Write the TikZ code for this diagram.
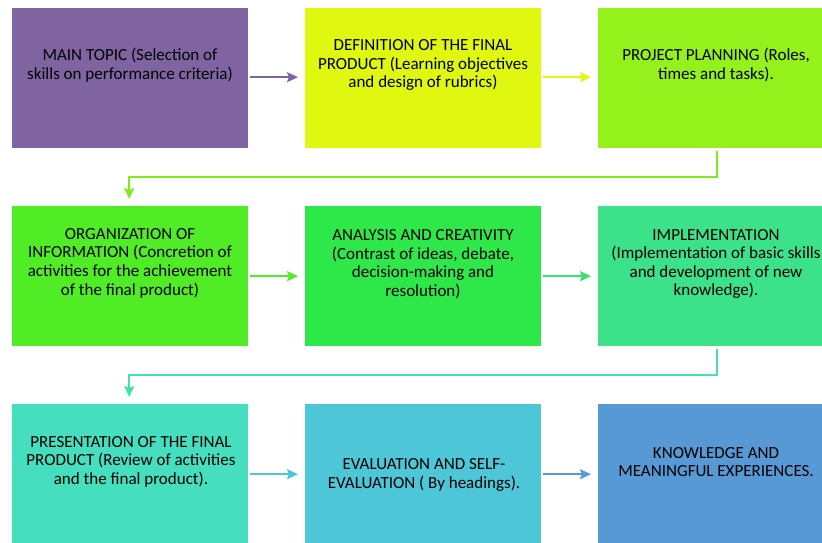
\documentclass[tikz,border=0pt]{standalone}
\usepackage{fontspec}
\setmainfont{Carlito}
\usetikzlibrary{arrows.meta,calc}
\definecolor{cA}{HTML}{8064A2}
\definecolor{cB}{HTML}{E0F80F}
\definecolor{cC}{HTML}{95F11B}
\definecolor{cD}{HTML}{50EC26}
\definecolor{cE}{HTML}{2EE84A}
\definecolor{cF}{HTML}{3CE28A}
\definecolor{cG}{HTML}{45DFBF}
\definecolor{cH}{HTML}{4DC6D8}
\definecolor{cI}{HTML}{5799D4}
\definecolor{aC}{HTML}{7EEB20}
\definecolor{aE}{HTML}{35E36A}
\definecolor{aF}{HTML}{45E0B0}
\tikzset{
  box/.style={minimum width=236pt,minimum height=140pt,inner sep=0pt,draw=none,anchor=north west},
  txt/.style={align=center,inner sep=0pt,font=\fontsize{17}{18.6}\selectfont,text=black},
  arr/.style={line width=2pt,-{Stealth[length=11pt,width=10pt,inset=2pt]}},
}
\begin{document}
\begin{tikzpicture}[x=1pt,y=1pt]
\useasboundingbox (0,0) rectangle (822,-542);
\clip (0,0) rectangle (822,-542);
% boxes
\node[box,fill=cA] (b1) at (12,-8) {};
\node[box,fill=cB] (b2) at (305,-8) {};
\node[box,fill=cC] (b3) at (598,-8) {};
\node[box,fill=cD] (b4) at (12,-206) {};
\node[box,fill=cE] (b5) at (305,-206) {};
\node[box,fill=cF] (b6) at (598,-206) {};
\node[box,fill=cG] (b7) at (12,-404) {};
\node[box,fill=cH] (b8) at (305,-404) {};
\node[box,fill=cI] (b9) at (598,-404) {};
% texts
\node[txt] (t1) at (130,-65) {MAIN TOPIC (Selection of\\skills on performance criteria)};
\node[txt] (t2) at (423,-65) {DEFINITION OF THE FINAL\\PRODUCT (Learning objectives\\and design of rubrics)};
\node[txt] (t3) at (716,-65) {PROJECT PLANNING (Roles,\\times and tasks).};
\node[txt] (t4) at (130,-263) {ORGANIZATION OF\\INFORMATION (Concretion of\\activities for the achievement\\of the final product)};
\node[txt] (t5) at (423,-264) {ANALYSIS AND CREATIVITY\\(Contrast of ideas, debate,\\decision-making and\\resolution)};
\node[txt] (t6) at (716,-264) {IMPLEMENTATION\\(Implementation of basic skills\\and development of new\\knowledge).};
\node[txt] (t7) at (131,-461.5) {PRESENTATION OF THE FINAL\\PRODUCT (Review of activities\\and the final product).};
\node[txt] (t8) at (424,-475) {EVALUATION AND SELF-\\EVALUATION ( By headings).};
\node[txt] (t9) at (716,-462) {KNOWLEDGE AND\\MEANINGFUL EXPERIENCES.};
% arrows
\draw[arr,cA] ([xshift=2pt,yshift=1pt]b1.east) -- ([xshift=-7pt,yshift=1pt]b2.west);
\draw[arr,cB] ([xshift=2pt,yshift=1pt]b2.east) -- ([xshift=-7pt,yshift=1pt]b3.west);
\draw[arr,aC] ([xshift=1pt,yshift=-3pt]b3.south) -- ++(0,-25.5) -| ([yshift=7pt,xshift=-1pt]b4.north);
\draw[arr,cD] ([xshift=2pt]b4.east) -- ([xshift=-7pt]b5.west);
\draw[arr,aE] ([xshift=2pt]b5.east) -- ([xshift=-7pt]b6.west);
\draw[arr,aF] ([xshift=1pt,yshift=-3pt]b6.south) -- ++(0,-25.5) -| ([yshift=7pt,xshift=-1pt]b7.north);
\draw[arr,cH] ([xshift=2pt]b7.east) -- ([xshift=-7pt]b8.west);
\draw[arr,cI] ([xshift=2pt]b8.east) -- ([xshift=-7pt]b9.west);
\end{tikzpicture}
\end{document}
